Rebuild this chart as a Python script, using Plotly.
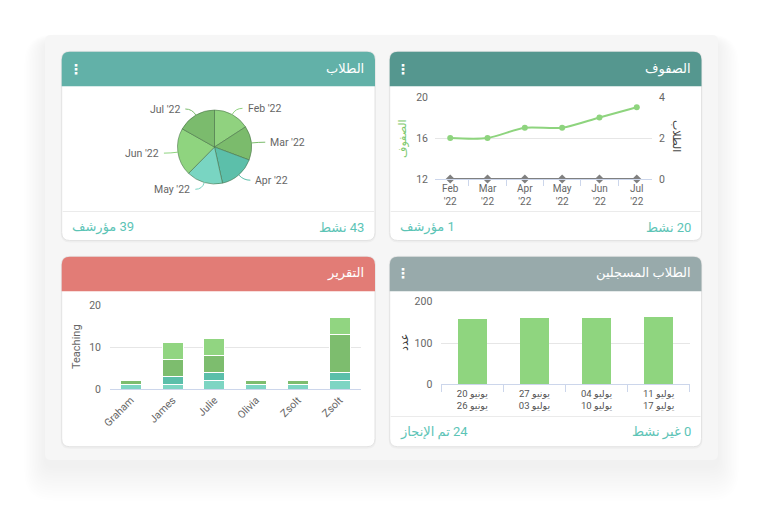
import math
import plotly.graph_objects as go

W, H = 764, 516
OFF = 8  # page body margin around the figure
FONT = "Roboto, 'DejaVu Sans', sans-serif"
RLE, PDF = "\u202b", "\u202c"

# ---------------- data ----------------
months = ["Feb '22", "Mar '22", "Apr '22", "May '22", "Jun '22", "Jul '22"]
classes_values = [16, 16, 17, 17, 18, 19]
archived_values = [0, 0, 0, 0, 0, 0]

pie_values = [16, 15, 16, 16, 21, 17]
pie_colors = ["#90d27f", "#7bbb6c", "#5cbfaa", "#79d5c2", "#8fd47f", "#7bbb6d"]

report_names = ["Graham", "James", "Julie", "Olivia", "Zsolt", "Zsolt"]
report_s1 = [1, 1, 2, 1, 1, 2]
report_s2 = [0, 2, 2, 0, 0, 2]
report_s3 = [1, 4, 4, 1, 1, 9]
report_s4 = [0, 4, 4, 0, 0, 4]
report_colors = ["#7dd5c3", "#5bbfaa", "#7dbd6e", "#91d581"]

enrolled_weeks = [("يونيو 20", "يونيو 26"), ("يونيو 27", "يوليو 03"),
                  ("يوليو 04", "يوليو 10"), ("يوليو 11", "يوليو 17")]
enrolled_values = [158, 160, 160, 162]

titles = ["الطلاب", "الصفوف", "التقرير", "الطلاب المسجلين"]
footer_right = ["43 نشط", "20 نشط", None, "0 غير نشط"]
footer_left = ["39 مؤرشف", "1 مؤرشف", None, "24 تم الإنجاز"]


# ---------------- helpers ----------------
def X(px):
    return (px - OFF) / W


def Y(py):
    return 1 - (py - OFF) / H


def rtl(s):
    return RLE + s + PDF


def rrect(x0, y0, x1, y1, r, top=True, bottom=True):
    rt = r if top else 0
    rb = r if bottom else 0
    pts = [("M", [(x0 + rt, y0)]), ("L", [(x1 - rt, y0)]), ("Q", [(x1, y0), (x1, y0 + rt)]),
           ("L", [(x1, y1 - rb)]), ("Q", [(x1, y1), (x1 - rb, y1)]), ("L", [(x0 + rb, y1)]),
           ("Q", [(x0, y1), (x0, y1 - rb)]), ("L", [(x0, y0 + rt)]), ("Q", [(x0, y0), (x0 + rt, y0)])]
    s = ""
    for cmd, ps in pts:
        s += cmd + " " + " ".join(f"{X(a):.5f},{Y(b):.5f}" for a, b in ps) + " "
    return s + "Z"


shapes = []
# panel shadow
P = (45, 35, 718, 460)
for i in range(14, 0, -1):
    e = i * 1.5
    shapes.append(dict(type="path", xref="paper", yref="paper", layer="below",
                       path=rrect(P[0] - e, P[1] - e + 6 + i, P[2] + e, P[3] + e + 6 + i, 8 + e),
                       fillcolor="rgba(0,0,0,0.005)", line=dict(width=0)))
shapes.append(dict(type="path", xref="paper", yref="paper", layer="below",
                   path=rrect(*P, 6), fillcolor="#f6f6f6", line=dict(width=0)))

cards = [(61.7, 51.7, 375, 240.5, "#62b1a8", 211.5),
         (389.7, 51.7, 701.5, 240.5, "#55978f", 211.5),
         (61.7, 256.7, 375, 446.7, "#e27c76", None),
         (389.7, 256.7, 701.5, 446.7, "#98aaab", 416.5)]
for (x0, y0, x1, y1, col, sep) in cards:
    shapes.append(dict(type="path", xref="paper", yref="paper", layer="below",
                       path=rrect(x0 - 1, y0 - 1, x1 + 1, y1 + 2, 9),
                       fillcolor="rgba(0,0,0,0.03)", line=dict(width=0)))
    shapes.append(dict(type="path", xref="paper", yref="paper", layer="below",
                       path=rrect(x0, y0, x1, y1, 8), fillcolor="#ffffff",
                       line=dict(color="#e3e3e3", width=1)))
    shapes.append(dict(type="path", xref="paper", yref="paper", layer="below",
                       path=rrect(x0, y0, x1, y0 + 34.5, 8, bottom=False), fillcolor=col,
                       line=dict(width=0)))
    if sep is not None:
        shapes.append(dict(type="line", xref="paper", yref="paper", layer="below",
                           x0=X(x0 + 1), x1=X(x1 - 1), y0=Y(sep), y1=Y(sep),
                           line=dict(color="#ebebeb", width=1)))

annotations = []
# headers
head_pos = [(366, 69), (693, 69), (366, 273), (693, 273)]
for t, (hx, hy) in zip(titles, head_pos):
    annotations.append(dict(text=t, x=X(hx), y=Y(hy), xref="paper", yref="paper",
                            xanchor="right", yanchor="middle", showarrow=False,
                            font=dict(family=FONT, size=13, color="#ffffff")))
for (dx, dy) in [(76, 69), (403, 69), (403, 273)]:
    annotations.append(dict(text="<b>⋮</b>", x=X(dx), y=Y(dy), xref="paper", yref="paper",
                            xanchor="center", yanchor="middle", showarrow=False,
                            font=dict(family="DejaVu Sans", size=14, color="#ffffff")))
# footers
foot_pos = [(70, 366, 227), (398, 693, 227), None, (398, 693, 432)]
for fl, fr, fp in zip(footer_left, footer_right, foot_pos):
    if fp is None:
        continue
    annotations.append(dict(text=rtl(fr), x=X(fp[1]), y=Y(fp[2]), xref="paper", yref="paper",
                            xanchor="right", yanchor="middle", showarrow=False,
                            font=dict(family=FONT, size=13, color="#5cc4b6")))
    annotations.append(dict(text=rtl(fl), x=X(fp[0]), y=Y(fp[2]), xref="paper", yref="paper",
                            xanchor="left", yanchor="middle", showarrow=False,
                            font=dict(family=FONT, size=13, color="#5cc4b6")))

# axis titles
axis_titles = [("الصفوف", 402, 138, -90, "#7cc96c"), ("الطلاب", 677, 136, 90, "#444444"),
               ("Teaching", 76, 347, -90, "#666666"), ("عدد", 404, 343, -90, "#333333")]
for t, ax_, ay_, ang, col in axis_titles:
    annotations.append(dict(text=t, x=X(ax_), y=Y(ay_), xref="paper", yref="paper",
                            xanchor="center", yanchor="middle", showarrow=False, textangle=ang,
                            font=dict(family=FONT, size=11, color=col)))

# pie labels with connectors (computed from the slice angles)
cx, cy, r = 214.5, 147.0, 37.0
total = sum(pie_values)
acc = 0
for lab, v, col in zip(months, pie_values, pie_colors):
    th = math.radians((acc + v / 2) / total * 360)
    acc += v
    s, c = math.sin(th), math.cos(th)
    sg = 1 if s >= 0 else -1
    ex, ey = cx + r * s, cy - r * c
    mx, my = cx + (r + 7) * s, cy - (r + 7) * c
    lx, ly = cx + sg * (44 * abs(s) + 10), cy - 44 * c
    shapes.append(dict(type="path", xref="paper", yref="paper", layer="above",
                       path=f"M {X(ex):.5f},{Y(ey):.5f} Q {X(mx):.5f},{Y(my):.5f} {X(lx - sg * 3):.5f},{Y(ly):.5f}",
                       line=dict(color=col, width=1)))
    annotations.append(dict(text=lab, x=X(lx), y=Y(ly), xref="paper", yref="paper",
                            xanchor="left" if sg > 0 else "right", yanchor="middle",
                            showarrow=False, font=dict(family=FONT, size=10.5, color="#666666")))

fig = go.Figure()

# ---- line chart (top right)
xcats = [m.replace(" ", "<br>") for m in months]
fig.add_trace(go.Scatter(x=xcats, y=classes_values, mode="lines+markers",
                         line=dict(color="#8ed47e", width=2, shape="spline", smoothing=0.8),
                         marker=dict(size=6, color="#8ed47e"), xaxis="x", yaxis="y"))
fig.add_trace(go.Scatter(x=xcats, y=archived_values, mode="lines+markers",
                         line=dict(color="#808080", width=2),
                         marker=dict(size=7, color="#808080", symbol="diamond"),
                         xaxis="x", yaxis="y2", cliponaxis=False))

# ---- pie (top left)
fig.add_trace(go.Pie(labels=months, values=pie_values, sort=False, direction="clockwise",
                     rotation=0, textinfo="none", hoverinfo="none",
                     marker=dict(colors=pie_colors, line=dict(color="rgba(70,110,70,0.55)", width=1)),
                     domain=dict(x=[X(177.5), X(251.5)], y=[Y(184), Y(110)])))

# ---- stacked bars (bottom left)
xi = list(range(len(report_names)))
for vals, col in zip([report_s1, report_s2, report_s3, report_s4], report_colors):
    fig.add_trace(go.Bar(x=xi, y=vals, width=0.5, marker=dict(color=col, line=dict(color="#ffffff", width=1)),
                         xaxis="x3", yaxis="y3"))

# ---- bars (bottom right)
wk = ["<br>".join(rtl(p) for p in w) for w in enrolled_weeks]
fig.add_trace(go.Bar(x=wk, y=enrolled_values, width=0.47, marker=dict(color="#8fd57f", line=dict(width=0)),
                     xaxis="x4", yaxis="y4"))

tick_font = dict(family=FONT, size=10.5, color="#666666")
fig.update_layout(
    width=W, height=H, margin=dict(l=0, r=0, t=0, b=0, autoexpand=False),
    paper_bgcolor="#ffffff", plot_bgcolor="rgba(0,0,0,0)",
    showlegend=False, hovermode=False, barmode="stack",
    shapes=shapes, annotations=annotations,
    xaxis=dict(domain=[X(435), X(652)], anchor="y", type="category", tickson="boundaries",
               ticks="outside", ticklen=6, tickcolor="#ccd6eb", showline=True, linecolor="#ccd6eb",
               showgrid=False, tickfont=dict(family=FONT, size=10, color="#666666")),
    yaxis=dict(domain=[Y(179), Y(97)], anchor="x", range=[12, 20], tickvals=[12, 16, 20],
               gridcolor="#e6e6e6", zeroline=False, showline=False, tickfont=tick_font,
               ticklabelstandoff=6),
    yaxis2=dict(overlaying="y", side="right", anchor="x", range=[0, 4], tickvals=[0, 2, 4],
                showgrid=False, zeroline=False, showline=False, tickfont=tick_font, ticklabelstandoff=6),
    xaxis3=dict(domain=[X(110), X(360.5)], anchor="y3", range=[-0.5, len(report_names) - 0.5],
                tickvals=xi, ticktext=report_names, tickangle=-45, showline=True, linecolor="#ccd6eb",
                showgrid=False, zeroline=False, ticks="", tickfont=tick_font),
    yaxis3=dict(domain=[Y(389), Y(305)], anchor="x3", range=[0, 20], tickvals=[0, 10, 20],
                gridcolor="#e6e6e6", zeroline=False, showline=False, tickfont=tick_font,
                ticklabelstandoff=8),
    xaxis4=dict(domain=[X(441.3), X(689.7)], anchor="y4", type="category", tickson="boundaries",
                ticks="outside", ticklen=7, tickcolor="#ccd6eb", showline=True, linecolor="#ccd6eb",
                showgrid=False, tickfont=dict(family=FONT, size=9.5, color="#555555")),
    yaxis4=dict(domain=[Y(384.3), Y(301.7)], anchor="x4", range=[0, 200], tickvals=[0, 100, 200],
                gridcolor="#e6e6e6", zeroline=False, showline=False, tickfont=tick_font,
                ticklabelstandoff=8),
)

fig.write_html("out.html")
